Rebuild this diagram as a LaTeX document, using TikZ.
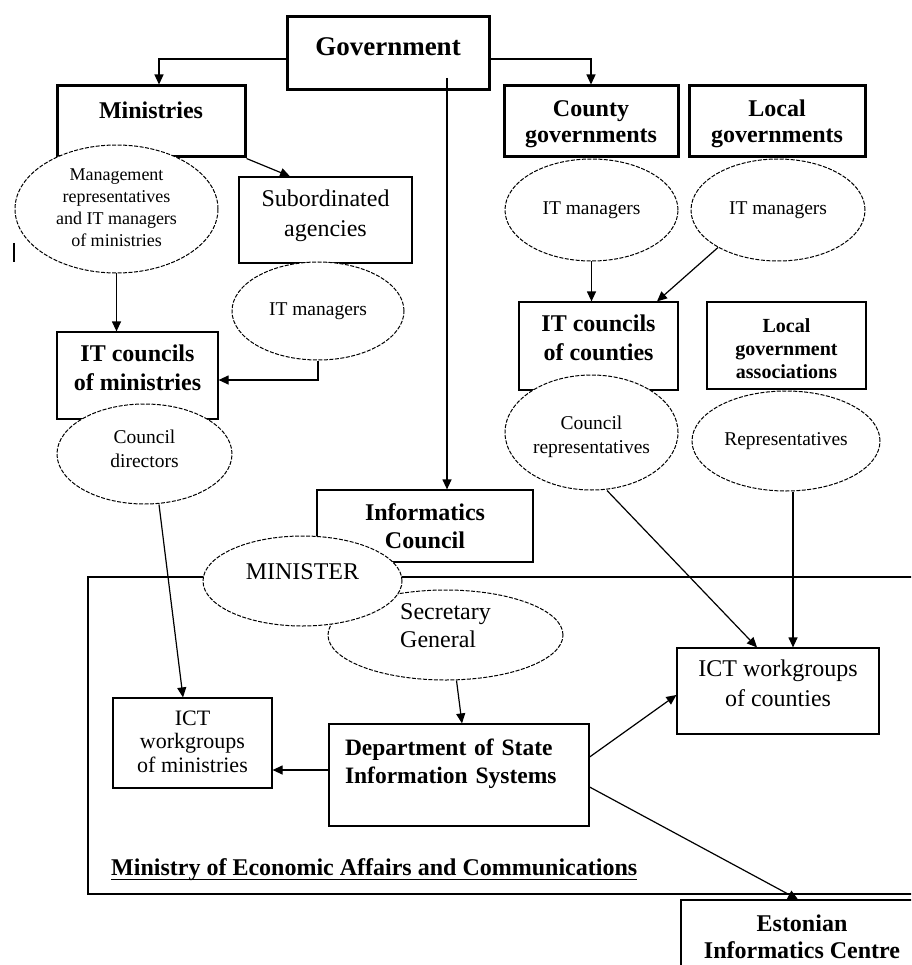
\documentclass[tikz,border=0pt]{standalone}
\usepackage{fontspec}
\setmainfont{Liberation Serif}
\usetikzlibrary{shapes.geometric, arrows.meta}

\begin{document}
\begin{tikzpicture}[x=1pt, y=-1pt, >={Triangle[length=10pt, width=9pt]},
    box/.style={draw, line width=1.2pt, inner sep=0pt, align=center, font=\fontsize{24}{29}\selectfont},
    boldbox/.style={box, font=\fontsize{24}{29}\selectfont\bfseries},
    headbox/.style={box, line width=3pt, font=\fontsize{24}{26}\selectfont\bfseries},
    oval/.style={draw, ellipse, line width=1pt, dash pattern=on 4pt off 1.5pt, fill=white, inner sep=0pt, align=center, font=\fontsize{19.5}{24}\selectfont},
    link/.style={->, line width=1.2pt}]
                \path[use as bounding box] (0,0) rectangle (911,965);
                \clip (0,0) rectangle (911,965);

                \draw[line width=1.2pt] (88,577) rectangle (940,894);
                \node[anchor=base west, inner sep=0pt, font=\fontsize{24}{29}\selectfont\bfseries] (mtitle) at (111,875) {Ministry of Economic Affairs and Communications};
                \draw[line width=1pt] ([yshift=-4pt]mtitle.base west) -- ([yshift=-4pt]mtitle.base east);

                \node[headbox, font=\fontsize{27}{30}\selectfont\bfseries, minimum width=202pt, minimum height=73pt, text height=20pt, text depth=15pt] (gov) at (388,53.5) {Government};
                \node[headbox, minimum width=188pt, minimum height=71pt, text height=20pt, text depth=25pt] (min) at (151,121.5) {Ministries};
                \node[headbox, minimum width=174pt, minimum height=71pt, text height=45pt, text depth=2pt] (cgov) at (591,121.5) {County\\governments};
                \node[headbox, minimum width=176pt, minimum height=71pt, text height=45pt, text depth=2pt] (lgov) at (777,121.5) {Local\\governments};

                \node[oval, font=\fontsize{18}{22}\selectfont, minimum width=203pt, minimum height=128pt, text height=76pt, text depth=0pt] (mgmt) at (116.5,209) {Management\\representatives\\and IT managers\\of ministries};
                \node[oval, minimum width=173pt, minimum height=102pt, text height=10pt, text depth=0pt] (cit) at (591.5,210) {IT managers};
                \node[oval, minimum width=174pt, minimum height=102pt, text height=10pt, text depth=0pt] (lit) at (778,210) {IT managers};

                \node[box, font=\fontsize{24}{30}\selectfont, minimum width=173pt, minimum height=86pt, text height=36pt, text depth=2pt] (sub) at (325.5,220) {Subordinated\\agencies};
                \node[oval, minimum width=172pt, minimum height=98pt, text height=8pt, text depth=0pt] (subit) at (318,311) {IT managers};

                \node[boldbox, minimum width=161pt, minimum height=87pt, text height=31pt, text depth=2pt] (itcm) at (137.5,375.5) {IT councils\\of ministries};
                \node[oval, minimum width=175pt, minimum height=100pt, text height=26pt, text depth=0pt] (cdir) at (144.5,454) {Council\\directors};

                \node[boldbox, minimum width=159pt, minimum height=88pt, text height=30pt, text depth=2pt] (itcc) at (598.5,346) {IT councils\\of counties};
                \node[boldbox, font=\fontsize{20}{23}\selectfont\bfseries, minimum width=159pt, minimum height=87pt, text height=67pt, text depth=2pt] (lga) at (786.5,345.5) {Local\\government\\associations};
                \node[oval, minimum width=173pt, minimum height=115pt, text height=41pt, text depth=0pt] (crep) at (591.5,432.5) {Council\\representatives};
                \node[oval, minimum width=188pt, minimum height=100pt, text height=8pt, text depth=0pt] (rep) at (786,441) {Representatives};

                \node[boldbox, font=\fontsize{24}{28}\selectfont\bfseries, fill=white, minimum width=216pt, minimum height=72pt, text height=46pt, text depth=2pt] (infc) at (425,526) {Informatics\\Council};
                \node[oval, font=\fontsize{24}{28}\selectfont, align=left, minimum width=235pt, minimum height=90pt, text height=24pt, text depth=0pt] (secgen) at (445.5,635) {Secretary\\General};
                \node[oval, font=\fontsize{24}{28}\selectfont, minimum width=199pt, minimum height=90pt, text height=2pt, text depth=6pt] (minister) at (302.5,581) {MINISTER};

                \node[box, font=\fontsize{22}{23.5}\selectfont, minimum width=159pt, minimum height=90pt, text height=60pt, text depth=2pt] (ictm) at (192.5,743) {ICT\\workgroups\\of ministries};
                \node[boldbox, font=\fontsize{23.5}{28}\selectfont\bfseries, text width=228pt, align=left, minimum width=260pt, minimum height=102pt, text height=20pt, text depth=60pt] (dept) at (459,775) {Department of State\\Information Systems};
                \node[box, font=\fontsize{24}{30}\selectfont, minimum width=202pt, minimum height=86pt, text height=32pt, text depth=2pt] (ictc) at (778,691) {ICT workgroups\\of counties};
                \node[boldbox, font=\fontsize{24}{27}\selectfont\bfseries, minimum width=242pt, minimum height=100pt, text height=18pt, text depth=2pt] (eic) at (802,950) {Estonian\\Informatics Centre};

                \draw[line width=1.2pt] (14,243) -- (14,262);
                \coordinate (govdrop) at (447,78);

                \draw[link] ([yshift=-5.5pt]gov.west) -| ([xshift=8pt]min.north);
                \draw[link] ([yshift=-5.5pt]gov.east) -| (cgov.north);
                \draw[link] (govdrop) -- (govdrop |- infc.north);
                \draw[link] (min.south east) -- ([xshift=-35.5pt]sub.north);
                \draw[link] (mgmt.south) -- (mgmt.south |- itcm.north);
                \draw[link] (subit.south) |- ([yshift=-4.5pt]itcm.east);
                \draw[link] ([xshift=14.5pt]cdir.south) -- ([xshift=-9.5pt]ictm.north);
                \draw[link] (cit.south) -- (cit.south |- itcc.north);
                \draw[link] (lit.212) -- ([xshift=58.5pt]itcc.north);
                \draw[link] ([xshift=15.5pt]crep.south) -- ([xshift=-21pt]ictc.north);
                \draw[link] ([xshift=7pt]rep.south) -- ([xshift=15pt]ictc.north);
                \draw[link] ([xshift=11pt]secgen.south) -- ([xshift=3pt]dept.north);
                \draw[link] ([yshift=5pt]dept.west) -- ([yshift=-27pt]ictm.east);
                \draw[link] ([yshift=18pt]dept.east) -- ([yshift=-4pt]ictc.west);
                \draw[link] ([yshift=-12pt]dept.east) -- ([xshift=-4pt]eic.north);
            \end{tikzpicture}
\end{document}
